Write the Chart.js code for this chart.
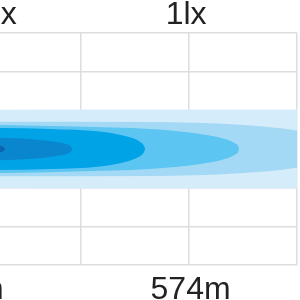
<!DOCTYPE html>
<html>
<head>
<meta charset="utf-8">
<script src="https://cdn.jsdelivr.net/npm/chart.js@4.4.1/dist/chart.umd.min.js"></script>
<style>
    html, body { margin: 0; padding: 0; background: #fff; overflow: hidden; }
</style>
</head>
<body>
<canvas id="beamChart" width="300" height="300"></canvas>
<script>
// distance along the beam (m) and lateral half width (m) of each isolux contour
const outerX = [266, 454, 723, 777];
const outerH = [10.1, 10.2, 10.2, 10.1];
const ring5X = [266, 320, 522, 642, 723, 757, 772, 777];
const ring5H = [7.0, 7.05, 7.0, 6.3, 4.65, 2.85, 1.3, 0];
const ring4X = [266, 320, 421, 522, 589, 622, 636, 640, 641];
const ring4H = [6.3, 6.2, 5.8, 5.15, 3.9, 2.6, 1.4, 0.7, 0];
const ring3X = [266, 320, 387, 454, 488, 508, 513, 515];
const ring3H = [5.5, 5.45, 5.2, 4.5, 3.35, 1.9, 0.95, 0];
const ring2X = [266, 320, 360, 394, 411, 415.5, 417];
const ring2H = [3.1, 2.92, 2.6, 1.85, 1.15, 0.6, 0];
const coreX = [266, 307, 320, 324, 326, 327];
const coreH = [1.55, 1.15, 0.9, 0.6, 0.35, 0];

const ringColors = ['#d5ecfb', '#a3d9f5', '#5cc5f1', '#00a3e6', '#0a86cf', '#0d64ae'];

// grid and labels
const xGrid = [429, 574, 719];
const topLabels = ['4lx', '1lx'];
const topLabelAt = [315, 570];
const bottomLabels = ['287m', '574m'];
const bottomLabelAt = [271, 576];

const rings = [
    { x: outerX, h: outerH },
    { x: ring5X, h: ring5H },
    { x: ring4X, h: ring4H },
    { x: ring3X, h: ring3H },
    { x: ring2X, h: ring2H },
    { x: coreX, h: coreH }
];

const datasets = [];
rings.forEach((ring, i) => {
    const order = rings.length - i; // outer rings sit underneath
    const common = {
        showLine: true,
        borderWidth: 0,
        borderColor: 'rgba(0,0,0,0)',
        pointRadius: 0,
        cubicInterpolationMode: 'monotone',
        order: order
    };
    datasets.push({ ...common, fill: false,
        data: ring.x.map((x, j) => ({ x: x, y: ring.h[j] })) });
    datasets.push({ ...common, fill: '-1', backgroundColor: ringColors[i],
        data: ring.x.map((x, j) => ({ x: x, y: -ring.h[j] })) });
});

// labels above and below the plot
const beamLabels = {
    id: 'beamLabels',
    afterDraw(chart) {
        const ctx = chart.ctx;
        const xs = chart.scales.x;
        const area = chart.chartArea;
        ctx.save();
        ctx.font = '32px "Liberation Sans", Arial, sans-serif';
        ctx.fillStyle = '#222';
        ctx.textAlign = 'center';
        ctx.textBaseline = 'alphabetic';
        topLabels.forEach((t, i) => {
            ctx.fillText(t, xs.getPixelForValue(topLabelAt[i]), area.top - 9.5);
        });
        bottomLabels.forEach((t, i) => {
            ctx.fillText(t, xs.getPixelForValue(bottomLabelAt[i]), area.bottom + 33.5);
        });
        ctx.restore();
    }
};

const gridStyle = { color: '#dddddd', lineWidth: 1.5, drawTicks: false };

new Chart(document.getElementById('beamChart'), {
    type: 'scatter',
    data: { datasets: datasets },
    options: {
        responsive: false,
        animation: false,
        layout: { padding: { top: 33, bottom: 35, left: 0, right: 3 } },
        plugins: { legend: { display: false }, tooltip: { enabled: false } },
        scales: {
            x: {
                type: 'linear', min: 320, max: 719,
                afterBuildTicks: (s) => { s.ticks = xGrid.map(v => ({ value: v })); },
                ticks: { display: false },
                grid: gridStyle,
                border: { display: false }
            },
            y: {
                type: 'linear', min: -30, max: 30,
                ticks: { display: false, stepSize: 10 },
                grid: gridStyle,
                border: { display: false }
            }
        }
    },
    plugins: [beamLabels]
});
</script>
</body>
</html>
